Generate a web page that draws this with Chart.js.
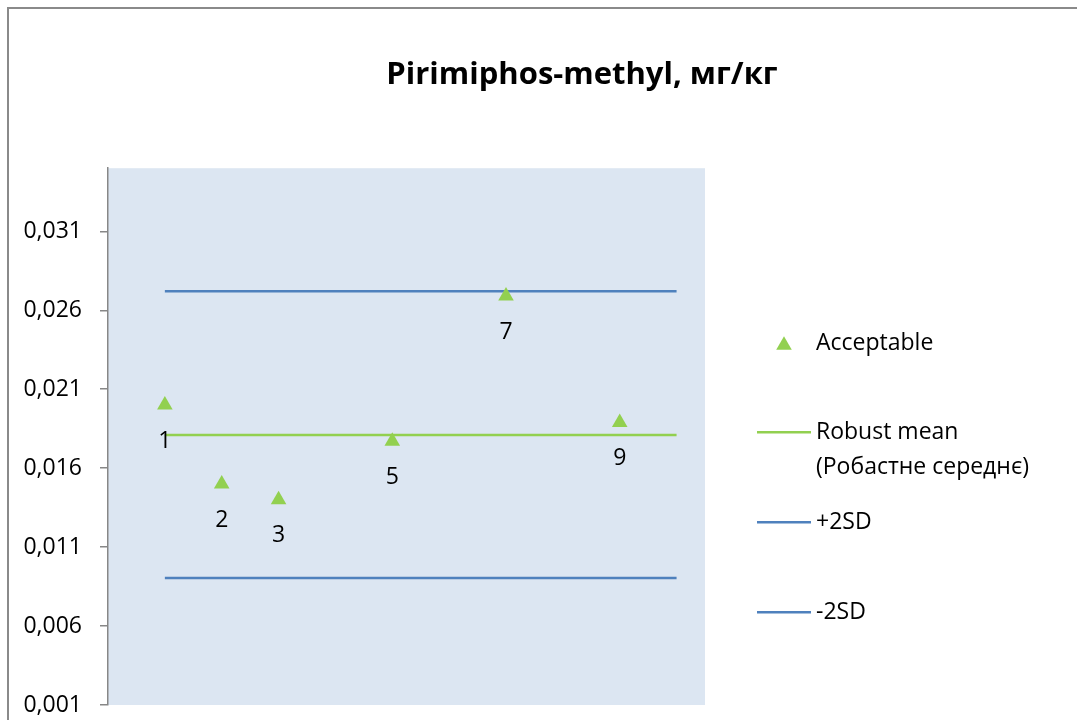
<!DOCTYPE html>
<html>
<head>
<meta charset="utf-8">
<script src="https://cdn.jsdelivr.net/npm/chart.js@4"></script>
<style>
  html, body { margin: 0; padding: 0; background: #fff; overflow: hidden; }
  #wrap { position: relative; width: 1077px; height: 720px; overflow: hidden; }
  #chart { position: absolute; left: 0; top: 0; }
  #frame {
    position: absolute; left: 7px; top: 7px; width: 1200px; height: 800px;
    border: 2px solid #8a8a8a; box-sizing: border-box; pointer-events: none;
  }
</style>
</head>
<body>
<div id="wrap">
  <canvas id="chart" width="1164" height="740"></canvas>
  <div id="frame"></div>
</div>
<script>
// Participant results (lab number -> value, mg/kg)
const labNumbers = [1, 2, 3, 5, 7, 9];
const labValues = [0.0200, 0.0150, 0.0140, 0.0177, 0.0269, 0.0189];

// Reference lines, drawn from lab 1 to lab 10
const lineX = [1, 10];
const robustMean = 0.0181;
const plus2SD = 0.0272;
const minus2SD = 0.00905;

// Y axis tick labels
const yTicks = [0.001, 0.006, 0.011, 0.016, 0.021, 0.026, 0.031];

const legendLabels = [
    ['Acceptable'],
    ['Robust mean', '(Робастне середнє)'],
    ['+2SD'],
    ['-2SD']
];

const FONT = '"Open Sans", "Liberation Sans", sans-serif';
const GREEN = '#92D050';
const BLUE = '#4F81BD';

// Helper: format number with comma decimal separator
function formatTick(v) {
    return v.toFixed(3).replace('.', ',');
}

const points = labNumbers.map((n, i) => ({ x: n, y: labValues[i] }));
const flatLine = v => lineX.map(x => ({ x: x, y: v }));

// Plot area background
const plotBackground = {
    id: 'plotBackground',
    beforeDraw(chart) {
        const { ctx, chartArea: a } = chart;
        ctx.save();
        ctx.fillStyle = '#DCE6F2';
        ctx.fillRect(a.left, a.top, a.right - a.left, a.bottom - a.top);
        ctx.restore();
    }
};

// Lab number under each point
const pointLabels = {
    id: 'pointLabels',
    afterDatasetsDraw(chart) {
        const { ctx } = chart;
        const meta = chart.getDatasetMeta(0);
        ctx.save();
        ctx.font = '23px ' + FONT;
        ctx.fillStyle = '#000';
        ctx.textAlign = 'center';
        ctx.textBaseline = 'middle';
        meta.data.forEach((el, i) => {
            ctx.fillText(String(labNumbers[i]), el.x, el.y + 36);
        });
        ctx.restore();
    }
};

// Legend on the right, Excel style
const sideLegend = {
    id: 'sideLegend',
    afterDraw(chart) {
        const { ctx, chartArea: a } = chart;
        const rowY = [175, 264, 354, 444];
        ctx.save();
        ctx.font = '23px ' + FONT;
        ctx.textBaseline = 'middle';
        ctx.textAlign = 'left';
        chart.data.datasets.forEach((ds, i) => {
            const y = a.top + rowY[i];
            if (ds.showLine === false) {
                ctx.fillStyle = ds.backgroundColor;
                Chart.helpers.drawPoint(ctx, {
                    pointStyle: 'triangle', radius: 9, borderWidth: 0
                }, a.right + 79, y + 2);
            } else {
                ctx.strokeStyle = ds.borderColor;
                ctx.lineWidth = ds.borderWidth;
                ctx.beginPath();
                ctx.moveTo(a.right + 52, y);
                ctx.lineTo(a.right + 106, y);
                ctx.stroke();
            }
            ctx.fillStyle = '#000';
            legendLabels[i].forEach((t, k) => {
                ctx.fillText(t, a.right + 111, y + k * 35);
            });
        });
        ctx.restore();
    }
};

new Chart(document.getElementById('chart'), {
    type: 'scatter',
    data: {
        datasets: [
            {
                label: 'Acceptable',
                data: points,
                showLine: false,
                pointStyle: 'triangle',
                pointRadius: 9,
                pointBorderWidth: 0,
                backgroundColor: GREEN,
                borderColor: GREEN
            },
            {
                label: 'Robust mean',
                data: flatLine(robustMean),
                showLine: true,
                borderColor: GREEN,
                borderWidth: 2.5,
                pointRadius: 0
            },
            {
                label: '+2SD',
                data: flatLine(plus2SD),
                showLine: true,
                borderColor: BLUE,
                borderWidth: 2.5,
                pointRadius: 0
            },
            {
                label: '-2SD',
                data: flatLine(minus2SD),
                showLine: true,
                borderColor: BLUE,
                borderWidth: 2.5,
                pointRadius: 0
            }
        ]
    },
    options: {
        responsive: false,
        animation: false,
        devicePixelRatio: 1,
        layout: { padding: { left: 0, right: 0, top: 0, bottom: 35 } },
        plugins: {
            legend: { display: false },
            tooltip: { enabled: false },
            title: {
                display: true,
                text: 'Pirimiphos-methyl, мг/кг',
                color: '#000',
                font: { family: FONT, size: 31, weight: 'bold', lineHeight: 1.2 },
                padding: { top: 57, bottom: 74 }
            }
        },
        scales: {
            x: {
                type: 'linear',
                min: 0,
                max: 10.5,
                display: false
            },
            y: {
                type: 'linear',
                min: 0.001,
                max: 0.035,
                afterBuildTicks: scale => {
                    scale.ticks = yTicks.map(v => ({ value: v }));
                },
                afterFit: scale => { scale.width = 108; },
                border: { display: true, color: '#878787', width: 1.5 },
                grid: {
                    drawOnChartArea: false,
                    drawTicks: true,
                    tickLength: 8,
                    color: '#878787',
                    lineWidth: 1.5
                },
                ticks: {
                    padding: 18,
                    color: '#000',
                    font: { family: FONT, size: 23 },
                    callback: v => formatTick(v)
                }
            },
            // empty axis that reserves the legend column on the right
            legendSpace: {
                type: 'linear',
                position: 'right',
                display: true,
                border: { display: false },
                grid: { display: false, drawTicks: false },
                ticks: { display: false },
                afterFit: scale => { scale.width = 459; }
            }
        }
    },
    plugins: [plotBackground, pointLabels, sideLegend]
});
</script>
</body>
</html>
